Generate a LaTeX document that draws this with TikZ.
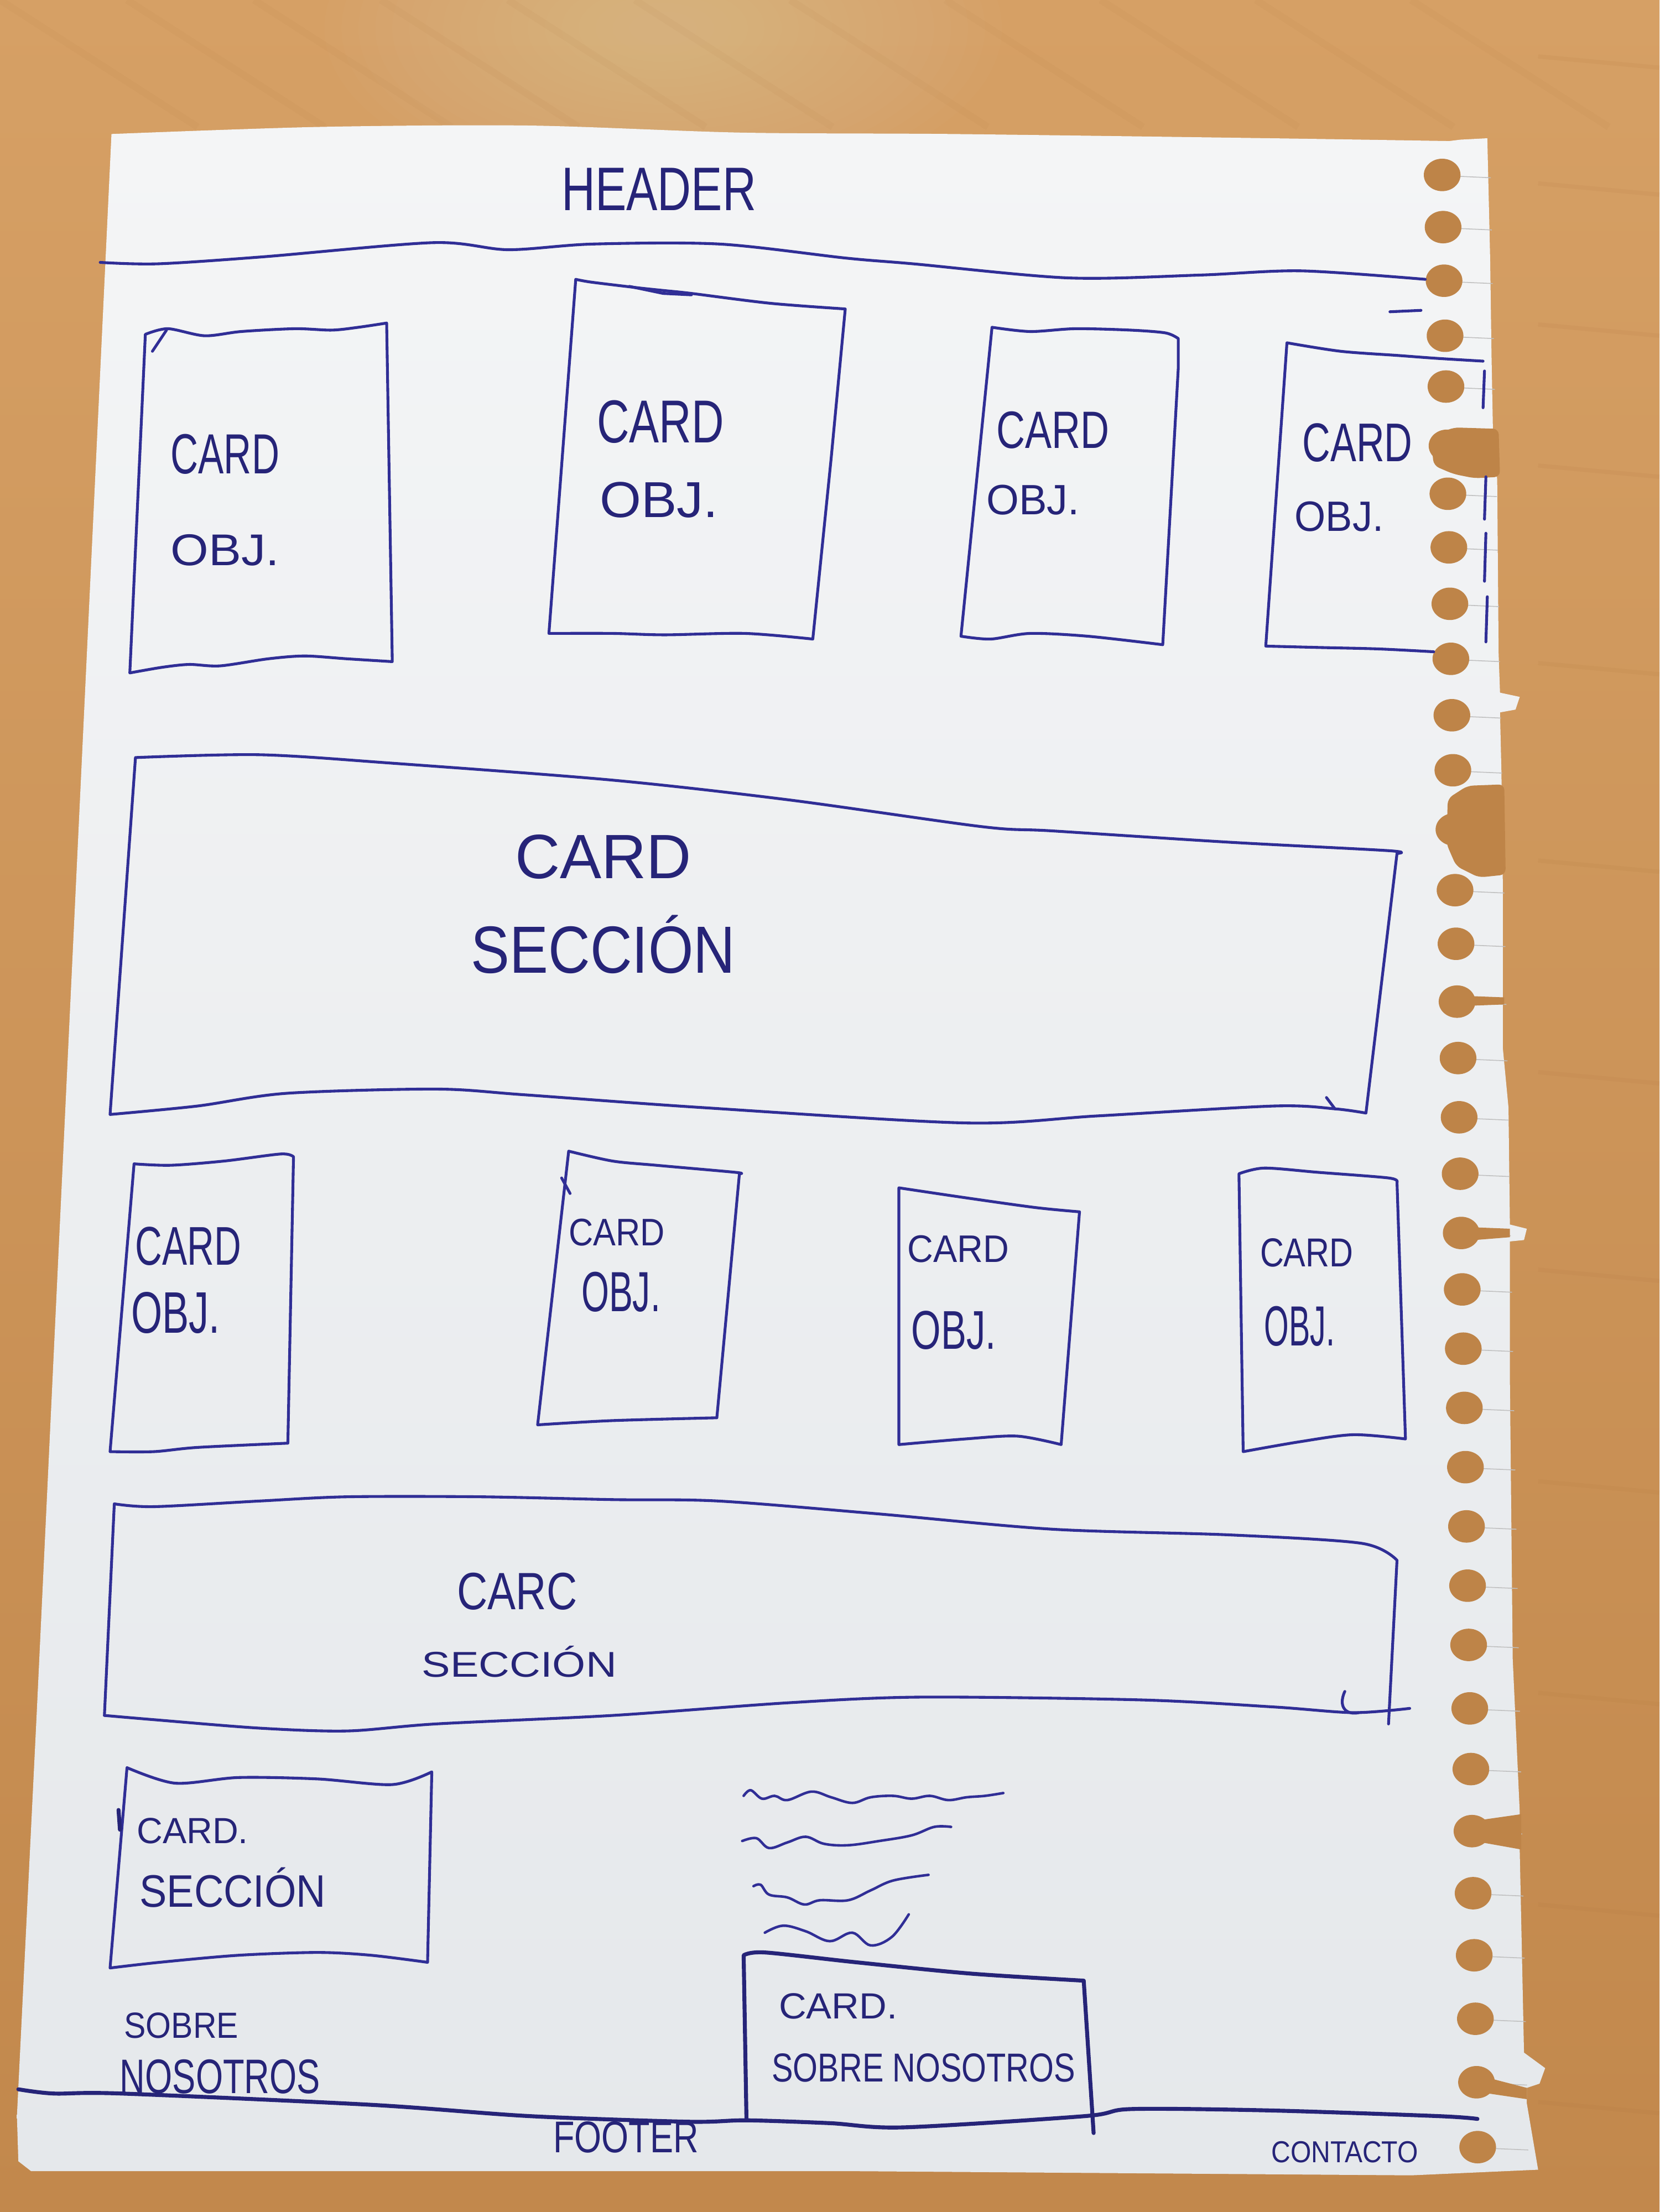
\documentclass[tikz,border=0pt]{standalone}
\usepackage{fontspec}
\setsansfont{Liberation Sans}
\definecolor{woodtop}{RGB}{214,160,101}
\definecolor{woodbot}{RGB}{194,136,76}
\definecolor{woodglare}{RGB}{236,204,166}
\definecolor{grain}{RGB}{175,115,60}
\definecolor{holewood}{RGB}{190,132,72}
\definecolor{papertop}{RGB}{244,245,246}
\definecolor{paperbot}{RGB}{229,232,235}
\definecolor{penblue}{RGB}{48,46,150}
\definecolor{inkblue}{RGB}{38,36,120}
\newcommand{\penword}[3]{\resizebox{#1pt}{#2pt}{\sffamily #3}}
\tikzset{
  ink/.style={draw=penblue, line width=2pt, line cap=round, line join=round},
  inkbold/.style={draw=inkblue, line width=2.8pt, line cap=round, line join=round},
  penlabel/.style={inner sep=0pt, text=inkblue},
  hole/.style={fill=holewood},
  slit/.style={draw=black!25, line width=0.6pt}
}
\begin{document}
\begin{tikzpicture}[x=1pt,y=-1pt]
\useasboundingbox (0,0) rectangle (1176,1568);

% table top
\shade[top color=woodtop, bottom color=woodbot] (0,0) rectangle (1176,1568);
\foreach \r in {2,...,20}{
  \fill[woodglare, opacity=0.035] (470,20) ellipse [x radius=12*\r, y radius=6*\r];
}
\foreach \gy in {40,130,230,330,470,610,760,900,1050,1200,1350,1490}{
  \draw[grain, opacity=0.1, line width=3pt] (1090,\gy) -- (1176,\gy+8);
}
\foreach \gx in {0,90,180,270,360,450,560,670,780,890,1000}{
  \draw[grain, opacity=0.06, line width=5pt] (\gx,0) -- (\gx+140,90);
}

% notebook sheet
\shade[top color=papertop, bottom color=paperbot]
  plot[smooth, tension=.5] coordinates {(79,95) (225,90) (375,89) (525,94) (675,95) (900,98) (1027,100)}
  -- (1035,99) -- (1054,98) -- (1056,183) -- (1057,253) -- (1058,306) -- (1061,340)
  -- (1062,463) -- (1063,491) -- (1077,494) -- (1074,503) -- (1063,505) -- (1064,547)
  -- (1065,627) -- (1065,743) -- (1069,785) -- (1070,868) -- (1082,871) -- (1080,879)
  -- (1070,880) -- (1070,977) -- (1072,1176) -- (1077,1285) -- (1077,1313) -- (1080,1455)
  -- (1095,1466) -- (1091,1477) -- (1082,1480) -- (1082,1491) -- (1090,1538)
  -- (1000,1542) -- (600,1539) -- (22,1539) -- (13,1532) -- (12,1500) -- (26,1215) -- cycle;

% spiral holes and the slits towards the torn edge
\foreach \hy in {124,161,199,238,274,316,350,388,428,467,507,546,588,631,669,710,750,792,832,874,914,956,998,1040,1082,1124,1166,1211,1254,1298,1342,1386,1431,1476,1522}{
  \pgfmathsetmacro\hx{1022+0.018*(\hy-124)}
  \pgfmathsetmacro\ex{1056+0.019*(\hy-100)}
  \draw[slit] (\hx+12,\hy+1) -- (\ex,\hy+2);
  \fill[hole] (\hx,\hy) ellipse [x radius=13, y radius=11.5];
}
% torn-out holes
\fill[hole, rounded corners=4pt] (1014,310) -- (1030,303) -- (1062,304) -- (1063,338) -- (1045,339) -- (1030,336) -- (1016,330) -- cycle;
\fill[hole, rounded corners=4pt] (1026,566) -- (1040,557) -- (1066,556) -- (1067,620) -- (1048,622) -- (1032,614) -- (1025,598) -- cycle;
\fill[hole] (1040,706) -- (1066,707) -- (1066,712) -- (1040,713) -- cycle;
\fill[hole] (1045,870) -- (1070,871) -- (1070,877) -- (1045,879) -- cycle;
\fill[hole] (1050,1290) -- (1078,1286) -- (1078,1311) -- (1050,1306) -- cycle;
\fill[hole] (1055,1473) -- (1082,1480) -- (1082,1488) -- (1055,1484) -- cycle;

% header band
\node[penlabel] (header) at (467,134) {\penword{138}{30}{HEADER}};
\draw[ink] plot[smooth, tension=.5] coordinates {(71,186) (112,187) (187,182) (307,172) (360,177) (420,173) (510,173) (600,183) (647,187) (757,197) (850,195) (922,192) (1010,198)};
\draw[ink] (985,221) -- (1007,220);

% first row of object cards
\draw[ink] plot[smooth, tension=.5] coordinates {(103,237) (119,233) (145,238) (171,235) (209,233) (235,234) (254,232) (274,229)}
  -- (278,469) -- plot[smooth, tension=.5] coordinates {(278,469) (246,467) (216,465) (190,467) (156,472) (134,471) (115,473) (92,477)} -- cycle;
\draw[ink] (108,249) -- (118,234);
\node[penlabel] (objA1) at (159.5,322) {\penword{77}{28}{CARD}};
\node[penlabel] (objA2) at (159.5,390) {\penword{77}{22}{OBJ.}};

\draw[ink] plot[smooth, tension=.5] coordinates {(408,198) (419,200) (452,204) (471,206) (490,208) (546,215) (599,219)}
  -- (589,325) -- (576,453) -- plot[smooth, tension=.5] coordinates {(576,453) (528,449) (471,450) (434,449) (389,449)} -- cycle;
\draw[ink] (446,203) -- (470,208) -- (490,209);
\node[penlabel] (objB1) at (468,299) {\penword{90}{30}{CARD}};
\node[penlabel] (objB2) at (467,354.5) {\penword{84}{25}{OBJ.}};

\draw[ink] plot[smooth, tension=.5] coordinates {(703,232) (730,235) (762,233) (801,234) (826,236) (835,240)}
  -- (835,261) -- (824,457) -- plot[smooth, tension=.5] coordinates {(824,457) (771,451) (730,449) (702,453) (681,451)} -- cycle;
\node[penlabel] (objC1) at (746,305) {\penword{80}{26}{CARD}};
\node[penlabel] (objC2) at (732,354.5) {\penword{66}{21}{OBJ.}};

\draw[ink] plot[smooth, tension=.5] coordinates {(1051,256) (1018,254) (991,252) (950,249) (912,243)}
  -- plot[smooth, tension=.5] coordinates {(897,458) (936,459) (977,460) (1016,462)};
\draw[ink] (1052,263) -- (1051,289);
\draw[ink] (1053,338) -- (1052,368);
\draw[ink] (1053,378) -- (1052,412);
\draw[ink] (1054,423) -- (1053,455);
\node[penlabel] (objD1) at (962,314) {\penword{78}{27}{CARD}};
\node[penlabel] (objD2) at (949,366) {\penword{63}{21}{OBJ.}};

% first section card
\draw[ink] plot[smooth, tension=.5] coordinates {(96,537) (184,535) (278,541) (434,553) (559,567) (696,586) (746,589) (871,597) (984,603) (990,605)}
  -- (968,789) -- plot[smooth, tension=.5] coordinates {(968,789) (946,786) (903,784) (778,791) (684,796) (496,785) (371,776) (309,772) (203,775) (140,784) (78,790)} -- cycle;
\draw[ink] (940,778) -- (946,786);
\node[penlabel] (secA1) at (427.5,607.5) {\penword{125}{31}{CARD}};
\node[penlabel] (secA2) at (427.5,669.5) {\penword{187}{41}{SECCIÓN}};

% second row of object cards
\draw[ink] plot[smooth, tension=.5] coordinates {(95,825) (121,826) (159,823) (199,818) (208,820)}
  -- (204,1023) -- plot[smooth, tension=.5] coordinates {(204,1023) (140,1026) (109,1029) (78,1029)} -- cycle;
\node[penlabel] (objE1) at (133.5,883.5) {\penword{75}{27}{CARD}};
\node[penlabel] (objE2) at (124.5,930.5) {\penword{63}{29}{OBJ.}};

\draw[ink] plot[smooth, tension=.5] coordinates {(403,816) (434,823) (465,826) (521,831) (524,832)}
  -- (508,1005) -- plot[smooth, tension=.5] coordinates {(508,1005) (434,1007) (381,1010)} -- cycle;
\draw[ink] (398,835) -- (404,846);
\node[penlabel] (objF1) at (437,873.5) {\penword{68}{19}{CARD}};
\node[penlabel] (objF2) at (440,916) {\penword{56}{28}{OBJ.}};

\draw[ink] plot[smooth, tension=.5] coordinates {(637,842) (684,849) (734,856) (765,859)}
  -- (752,1024) -- plot[smooth, tension=.5] coordinates {(752,1024) (721,1018) (684,1020) (637,1024)} -- cycle;
\node[penlabel] (objG1) at (679,885.5) {\penword{72}{19}{CARD}};
\node[penlabel] (objG2) at (676,943) {\penword{60}{27}{OBJ.}};

\draw[ink] plot[smooth, tension=.5] coordinates {(878,832) (896,828) (934,831) (984,835) (990,838)}
  -- (996,1020) -- plot[smooth, tension=.5] coordinates {(996,1020) (959,1017) (921,1022) (881,1029)} -- cycle;
\node[penlabel] (objH1) at (926,888) {\penword{66}{20}{CARD}};
\node[penlabel] (objH2) at (921,940) {\penword{50}{28}{OBJ.}};

% second section card
\draw[ink] plot[smooth, tension=.5] coordinates {(74,1216) (81,1066)}
  -- plot[smooth, tension=.5] coordinates {(81,1066) (109,1068) (184,1064) (246,1061) (340,1061) (434,1063) (509,1064) (621,1073) (746,1084) (871,1088) (965,1094) (990,1106)}
  -- (984,1222);
\draw[ink] plot[smooth, tension=.5] coordinates {(999,1211) (959,1214) (903,1210) (809,1205) (653,1203) (559,1207) (434,1216) (309,1222) (246,1227) (184,1225) (109,1219) (74,1216)};
\draw[ink] (953,1199) .. controls (948,1210) and (954,1216) .. (963,1214);
\node[penlabel] (secB1) at (366.5,1128) {\penword{85}{26}{CARC}};
\node[penlabel] (secB2) at (368,1178) {\penword{138}{22}{SECCIÓN}};

% small section card and about-us area
\draw[ink] plot[smooth, tension=.5] coordinates {(90,1253) (124,1264) (169,1260) (225,1261) (278,1265) (306,1256)}
  -- (303,1391) -- plot[smooth, tension=.5] coordinates {(303,1391) (263,1386) (225,1384) (169,1386) (113,1391) (78,1395)} -- cycle;
\draw[inkbold] (84,1283) -- (85,1297);
\node[penlabel] (secC1) at (136.5,1298) {\penword{79}{18}{CARD.}};
\node[penlabel] (secC2) at (165,1338) {\penword{132}{28}{SECCIÓN}};

\node[penlabel] (about1) at (128.5,1436) {\penword{81}{18}{SOBRE}};
\node[penlabel] (about2) at (156,1472) {\penword{142}{24}{NOSOTROS}};

% placeholder text lines
\draw[ink, line width=1.8pt] plot[smooth, tension=.6] coordinates {(527,1273) (532,1269) (540,1275) (549,1273) (558,1276) (575,1270) (589,1274) (604,1278) (617,1274) (633,1273) (646,1275) (659,1273) (672,1276) (685,1274) (698,1273) (711,1271)};
\draw[ink, line width=1.8pt] plot[smooth, tension=.6] coordinates {(526,1305) (536,1303) (545,1310) (558,1306) (571,1302) (584,1307) (601,1308) (623,1305) (646,1301) (662,1295) (674,1295)};
\draw[ink, line width=1.8pt] plot[smooth, tension=.6] coordinates {(534,1337) (539,1336) (545,1343) (558,1345) (570,1350) (581,1347) (601,1347) (617,1340) (633,1333) (658,1329)};
\draw[ink, line width=1.8pt] plot[smooth, tension=.6] coordinates {(542,1370) (555,1365) (571,1369) (588,1376) (604,1370) (617,1379) (632,1373) (644,1357)};

% about-us card
\draw[inkbold] (529,1503) -- (527,1386) -- plot[smooth, tension=.5] coordinates {(527,1386) (542,1384) (607,1391) (688,1399) (768,1404)} -- (775,1512);
\node[penlabel] (about3) at (594,1422) {\penword{84}{18}{CARD.}};
\node[penlabel] (about4) at (654.5,1466) {\penword{215}{20}{SOBRE NOSOTROS}};

% footer band
\draw[inkbold] plot[smooth, tension=.5] coordinates {(13,1481) (38,1484) (86,1484) (263,1492) (375,1500) (488,1504) (529,1503) (588,1505) (640,1508) (769,1500) (802,1495) (900,1496) (1019,1500) (1047,1502)};
\node[penlabel] (footer) at (443.5,1515) {\penword{103}{22}{FOOTER}};
\node[penlabel] (contact) at (953,1525.5) {\penword{104}{15}{CONTACTO}};
\end{tikzpicture}
\end{document}
